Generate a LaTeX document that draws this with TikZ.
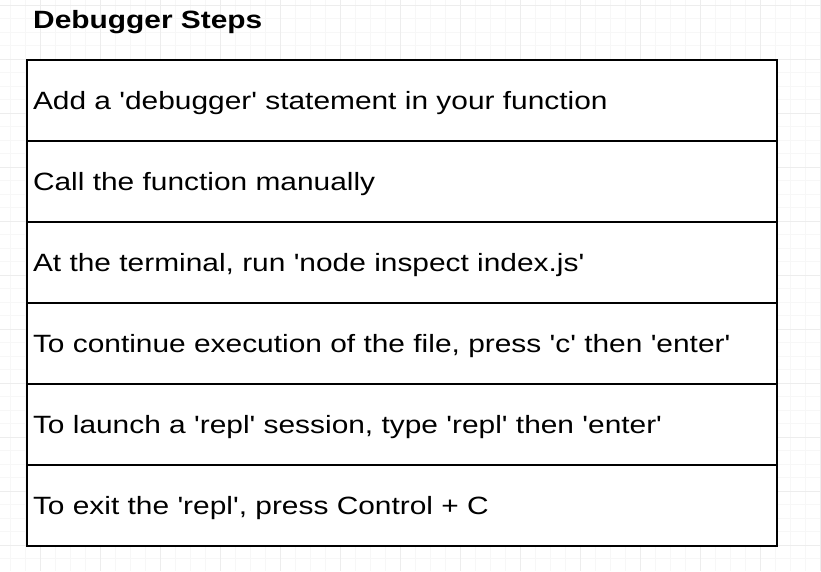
\documentclass[tikz,border=0pt]{standalone}
\usepackage{fontspec}
\setmainfont{Liberation Sans}[Ligatures=TeXOff, FakeStretch=1.195]
\usetikzlibrary{positioning}

\tikzset{
    steprow/.style={draw, fill=white, line width=2.2pt, outer sep=0pt, anchor=north west,
        minimum height=81pt, text width=738pt, inner xsep=6pt, align=left,
        text height=18pt, text depth=0pt, font=\fontsize{25}{30}\selectfont},
    gridminor/.style={line width=0.6pt, black!3},
    gridmajor/.style={line width=0.8pt, black!7}
}

\begin{document}
\begin{tikzpicture}[x=1pt, y=-1pt]
    \useasboundingbox (0,0) rectangle (821,571);
    \fill[white] (0,0) rectangle (821,571);

    % Background grid, minor lines first
    \foreach \x in {10,25,...,820}
        \draw[gridminor] (\x,0) -- (\x,571);
    \foreach \y in {5,18.5,...,571}
        \draw[gridminor] (0,\y) -- (821,\y);
    \foreach \x in {40,100,...,820}
        \draw[gridmajor] (\x,0) -- (\x,571);
    \foreach \y in {5,59,...,571}
        \draw[gridmajor] (0,\y) -- (821,\y);

    % Title
    \node[anchor=base west, inner sep=0pt, font=\bfseries\fontsize{25}{30}\selectfont] (title) at (33,28) {Debugger Steps};

    % Rows of the table
    \node[steprow] (row1) at (27,60) {Add a 'debugger' statement in your function};
    \node[steprow, below=0pt of row1] (row2) {Call the function manually};
    \node[steprow, below=0pt of row2] (row3) {At the terminal, run 'node inspect index.js'};
    \node[steprow, below=0pt of row3] (row4) {To continue execution of the file, press 'c' then 'enter'};
    \node[steprow, below=0pt of row4] (row5) {To launch a 'repl' session, type 'repl' then 'enter'};
    \node[steprow, below=0pt of row5] (row6) {To exit the 'repl', press Control + C};
\end{tikzpicture}
\end{document}
